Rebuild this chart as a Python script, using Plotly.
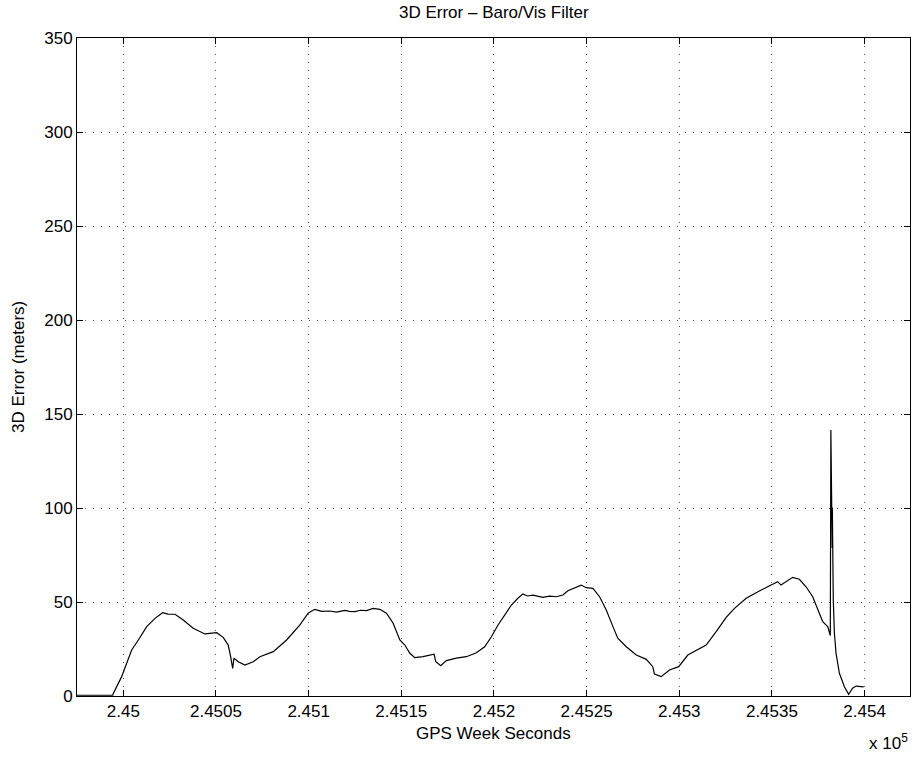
import plotly.graph_objects as go

# GPS week seconds and 3D position error (meters) of the baro/vision filter
gps_seconds = [
    244975.0, 244982.0, 244987.4, 244994.3, 244994.6, 244999.1, 245001.8, 245004.5,
    245008.1, 245012.6, 245017.1, 245021.2, 245024.1, 245027.9, 245032.3, 245037.7,
    245044.0, 245050.4, 245053.9, 245056.6, 245057.9, 245059.0, 245059.7, 245062.0,
    245065.6, 245070.1, 245073.7, 245080.9, 245088.1, 245095.3, 245099.7, 245103.3,
    245107.0, 245111.4, 245115.0, 245119.5, 245122.0, 245124.9, 245128.0, 245131.2,
    245134.8, 245138.4, 245142.0, 245145.6, 245149.2, 245151.9, 245154.6, 245157.3,
    245161.7, 245166.3, 245167.7, 245168.6, 245171.3, 245174.3, 245179.7, 245185.1,
    245190.5, 245195.0, 245198.6, 245202.2, 245205.8, 245209.4, 245212.9, 245215.6,
    245218.0, 245221.0, 245226.4, 245230.0, 245233.6, 245237.2, 245239.9, 245243.5,
    245247.1, 245249.8, 245253.4, 245257.0, 245260.6, 245264.2, 245266.8, 245271.4,
    245276.8, 245282.2, 245285.7, 245286.6, 245290.2, 245294.7, 245299.7, 245304.6,
    245309.1, 245314.5, 245319.9, 245325.3, 245329.8, 245336.1, 245343.2, 245348.6,
    245353.1, 245354.9, 245358.5, 245361.2, 245364.8, 245368.4, 245372.0, 245374.7,
    245377.4, 245380.1, 245381.5, 245381.8, 245382.2, 245382.3, 245382.4, 245382.5,
    245382.6, 245382.7, 245382.8, 245383.1, 245383.7, 245384.6, 245386.4, 245389.1,
    245391.4, 245393.5, 245395.4, 245399.5,
]
error_m = [
    0.4, 0.3, 0.4, 0.4, 1.4, 10.3, 17.4, 24.5,
    29.8, 36.9, 41.3, 44.3, 43.6, 43.5, 40.4, 36.0,
    33.0, 33.7, 31.2, 27.1, 20.9, 14.7, 20.1, 18.2,
    16.5, 18.2, 20.9, 23.6, 29.8, 37.8, 44.0, 46.1,
    45.0, 45.2, 44.6, 45.5, 45.0, 44.9, 45.6, 45.4,
    46.6, 46.1, 44.0, 38.7, 29.8, 27.1, 22.7, 20.4,
    20.9, 21.8, 22.2, 18.2, 16.1, 18.8, 20.1, 20.9,
    23.0, 26.2, 31.5, 37.8, 43.1, 48.4, 52.0, 54.3,
    53.2, 53.7, 52.5, 53.1, 52.8, 53.7, 56.0, 57.4,
    59.0, 57.6, 57.3, 52.8, 45.7, 36.9, 30.7, 26.2,
    21.8, 19.5, 15.6, 11.7, 10.3, 13.8, 15.6, 21.8,
    24.1, 27.1, 34.2, 41.8, 46.6, 52.0, 55.9, 58.5,
    60.8, 59.0, 61.3, 63.1, 62.1, 58.1, 52.8, 45.7,
    39.5, 36.9, 32.2, 141.5, 100.2, 78.7, 100.2, 78.7,
    100.2, 78.7, 78.7, 51.1, 33.4, 22.7, 12.1, 4.9,
    0.9, 4.1, 5.3, 4.9,
]

x_tick_values = [245000, 245050, 245100, 245150, 245200, 245250, 245300, 245350, 245400]
x_tick_labels = ["2.45", "2.4505", "2.451", "2.4515", "2.452", "2.4525", "2.453", "2.4535", "2.454"]
y_tick_values = [0, 50, 100, 150, 200, 250, 300, 350]

FONT = "Liberation Sans, Arial, Helvetica, sans-serif"

fig = go.Figure()
fig.add_trace(go.Scatter(
    x=gps_seconds, y=error_m, mode="lines",
    line=dict(color="black", width=1.2),
    showlegend=False,
))

axis_common = dict(
    showline=True, linecolor="black", linewidth=1, mirror="ticks",
    ticks="inside", ticklen=6, tickcolor="black", tickwidth=1,
    showgrid=True, gridcolor="#555555", gridwidth=1, griddash="1px,7px",
    zeroline=False,
    tickfont=dict(family=FONT, size=17, color="black"),
)

fig.update_layout(
    width=914, height=758,
    margin=dict(l=77, r=4, t=38, b=62),
    paper_bgcolor="white", plot_bgcolor="white",
    font=dict(family=FONT, size=17, color="black"),
    xaxis=dict(range=[244975, 245424.5], tickvals=x_tick_values, ticktext=x_tick_labels,
               **axis_common),
    yaxis=dict(range=[0, 350], tickvals=y_tick_values, **axis_common),
)

# Title, axis titles and the exponent note, placed in paper coordinates
notes = [
    dict(text="3D Error \u2013 Baro/Vis Filter", x=0.5, y=1.0, yshift=26,
         xanchor="center", yanchor="middle", textangle=0),
    dict(text="GPS Week Seconds", x=0.5, y=0.0, yshift=-37,
         xanchor="center", yanchor="middle", textangle=0),
    dict(text="3D Error (meters)", x=0.0, y=0.5, xshift=-59,
         xanchor="center", yanchor="middle", textangle=-90),
    dict(text="x 10<sup>5</sup>", x=1.0, y=0.0, yshift=-46,
         xanchor="right", yanchor="middle", textangle=0),
]
for n in notes:
    fig.add_annotation(xref="paper", yref="paper", showarrow=False,
                       font=dict(family=FONT, size=17, color="black"), **n)

fig.write_html("out.html")
